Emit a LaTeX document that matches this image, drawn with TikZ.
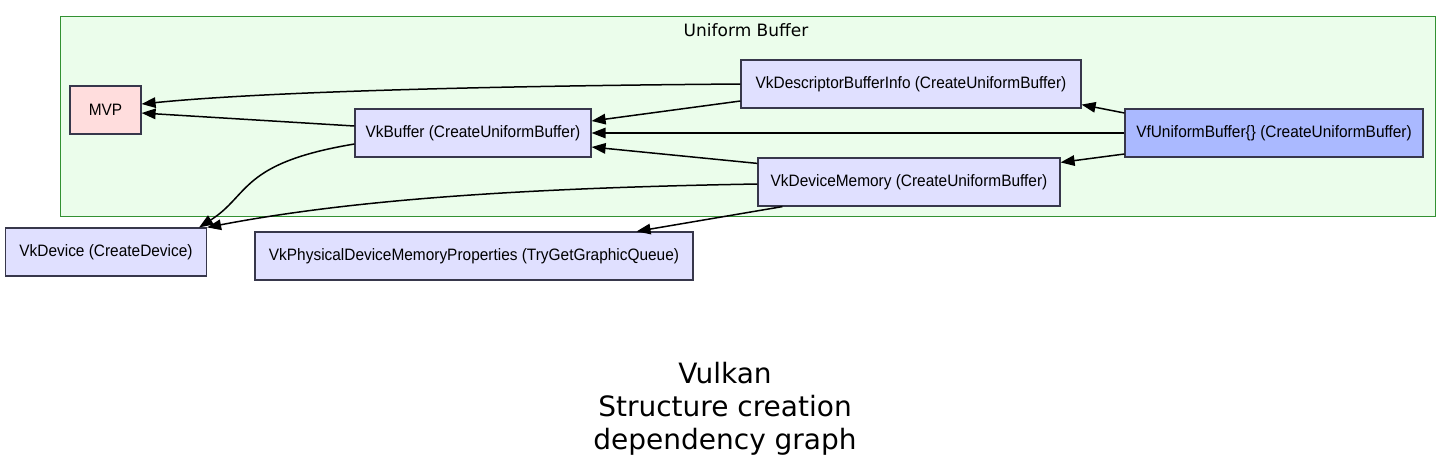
\documentclass[tikz,border=0pt]{standalone}
\usepackage{fontspec}
\setmainfont{Liberation Sans}
\newfontfamily\nodefont[FakeStretch=0.935]{Liberation Sans}
\newfontfamily\labelfont{DejaVu Sans}
\usetikzlibrary{arrows.meta}
\definecolor{clfill}{RGB}{235,253,235}
\definecolor{cldraw}{RGB}{50,145,50}
\definecolor{ndfill}{RGB}{224,224,255}
\definecolor{ndmain}{RGB}{170,185,255}
\definecolor{ndred}{RGB}{255,221,221}
\definecolor{nddraw}{RGB}{55,55,75}

\begin{document}
\begin{tikzpicture}[x=1pt, y=-1pt,
	nd/.style={draw=nddraw, line width=1.2pt, fill=ndfill, rectangle, inner sep=0pt, minimum height=48pt, font=\nodefont\fontsize{16.5}{18}\selectfont},
	cl/.style={draw=cldraw, line width=1pt, fill=clfill},
	seta/.style={-{Triangle[length=14pt, width=10.5pt]}, line width=1.5pt}
	]
	\path[use as bounding box] (0,0) rectangle (1451,475);

	\draw[cl] (60,16) rectangle (1435,216);
	\node[font=\labelfont\fontsize{17}{20}\selectfont] (cll) at (746,30) {Uniform Buffer};

	\node[nd, fill=ndred, minimum width=71pt] (mvp) at (105.5,110) {MVP};
	\node[nd, minimum width=236pt] (buf) at (473,133) {VkBuffer (CreateUniformBuffer)};
	\node[nd, minimum width=340pt] (desc) at (911,84) {VkDescriptorBufferInfo (CreateUniformBuffer)};
	\node[nd, fill=ndmain, minimum width=298pt] (vf) at (1274,133) {VfUniformBuffer\{\} (CreateUniformBuffer)};
	\node[nd, minimum width=302pt] (mem) at (909,182) {VkDeviceMemory (CreateUniformBuffer)};
	\node[nd, minimum width=201pt] (dev) at (106,252) {VkDevice (CreateDevice)};
	\node[nd, minimum width=438pt] (phys) at (474,256) {VkPhysicalDeviceMemoryProperties (TryGetGraphicQueue)};

	\node[font=\labelfont\fontsize{28}{33}\selectfont, align=center] (ttl) at (725,409) {Vulkan\\Structure creation\\dependency graph};

	\draw[seta] (desc.west) .. controls (480,86) and (260,92) .. ([yshift=6pt]mvp.east);
	\draw[seta] ([yshift=-17pt]desc.west) -- ([yshift=12pt]buf.east);
	\draw[seta] ([yshift=7pt]buf.west) -- ([yshift=-3pt]mvp.east);
	\draw[seta] ([yshift=-11pt]buf.west) .. controls (240,163) and (250,195) .. ([xshift=-8pt]dev.north east);
	\draw[seta] ([yshift=20pt]vf.west) -- ([yshift=4pt]desc.south east);
	\draw[seta] (vf.west) -- (buf.east);
	\draw[seta] ([yshift=-21pt]vf.west) -- ([yshift=-5pt]mem.north east);
	\draw[seta] ([yshift=-6pt]mem.north west) -- ([yshift=-14pt]buf.east);
	\draw[seta] ([yshift=-2pt]mem.west) .. controls (520,188) and (350,200) .. (dev.north east);
	\draw[seta] ([xshift=25pt]mem.south west) -- ([xshift=-57pt]phys.north east);
\end{tikzpicture}
\end{document}
